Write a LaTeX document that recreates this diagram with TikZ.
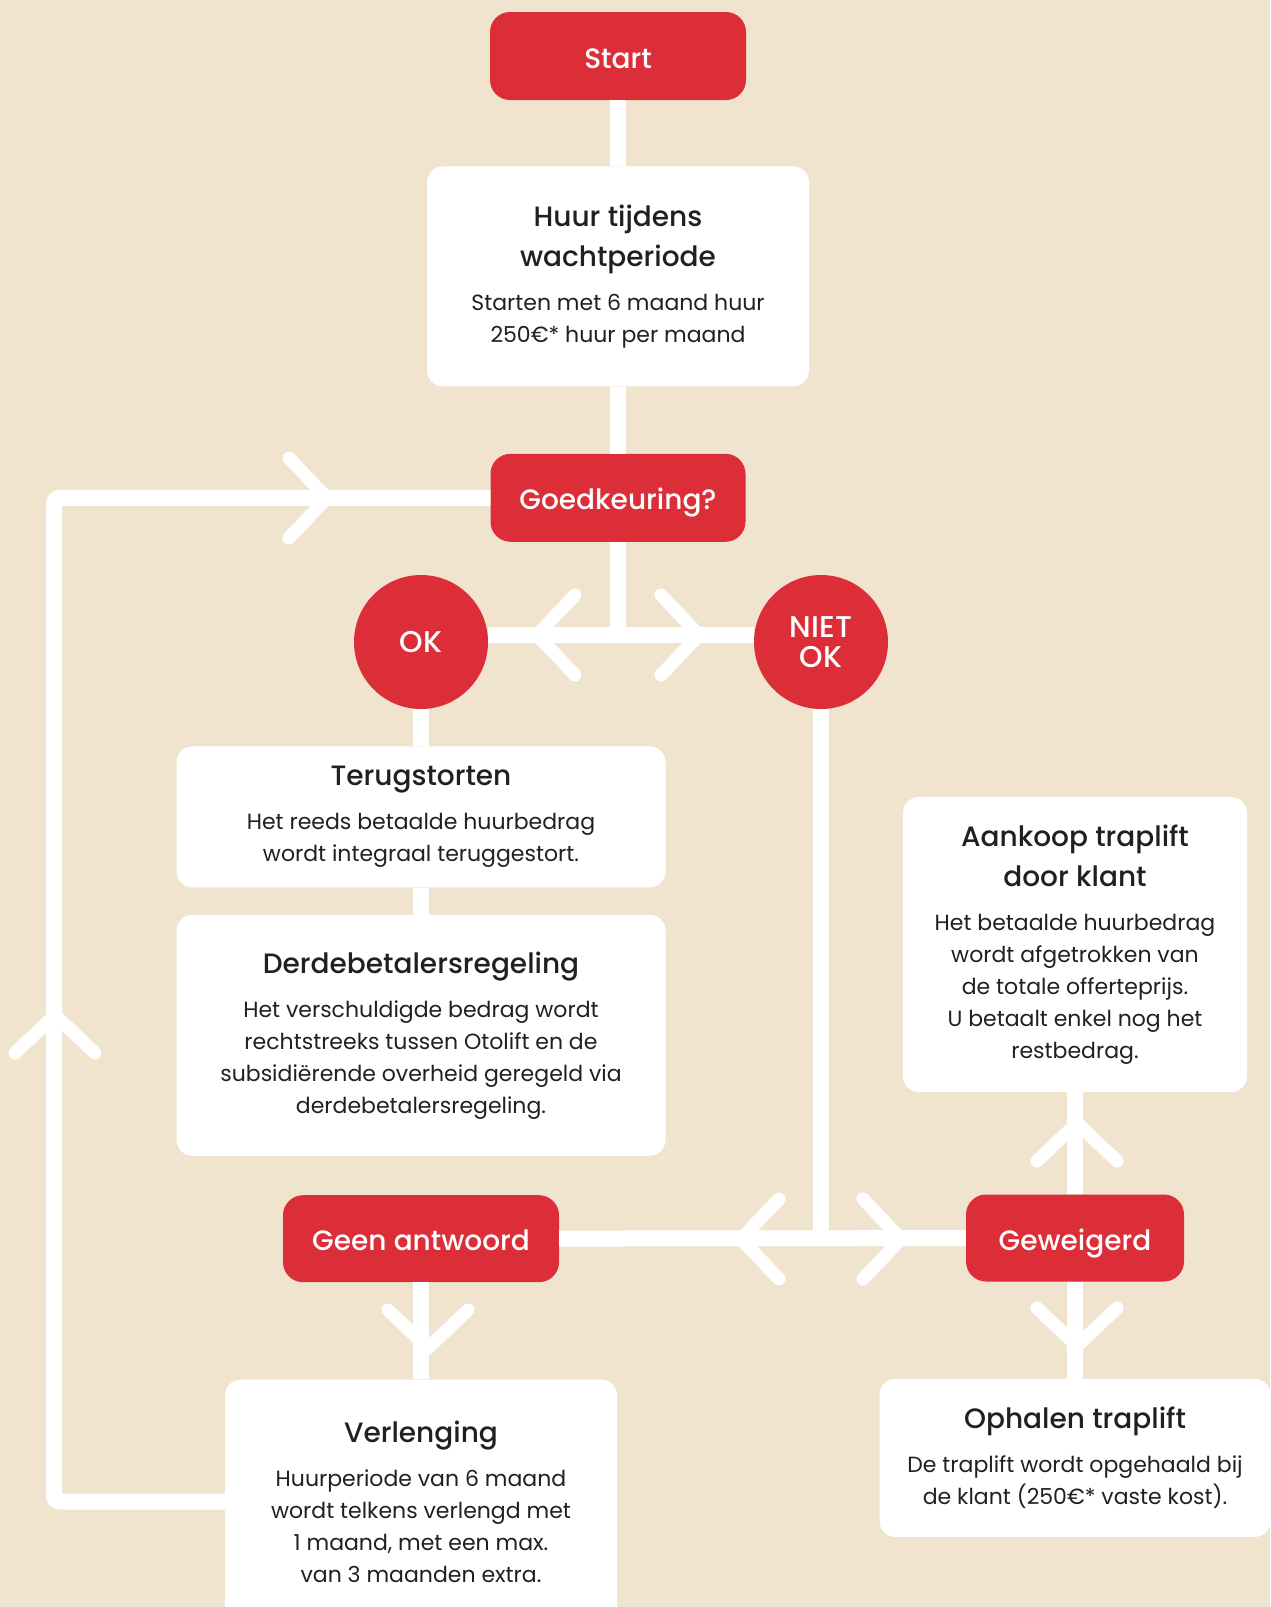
\documentclass[tikz,border=0pt]{standalone}
\usepackage{fontspec}
\setmainfont{Poppins}[BoldFont={Poppins Medium}]
\usetikzlibrary{positioning, arrows.meta}
\definecolor{bgbeige}{RGB}{240,228,207}
\definecolor{otored}{RGB}{220,46,56}
\definecolor{inkdark}{RGB}{35,31,32}
\newcommand{\hd}{\fontsize{28}{40}\selectfont\bfseries}
\newcommand{\bd}{\fontsize{22}{32}\selectfont}
\tikzset{
  redbox/.style={
    rectangle, rounded corners=20pt, minimum height=88pt, inner sep=0pt,
    text height=24pt, text depth=0pt,
    fill=otored, text=white, font=\fontsize{28}{34}\selectfont\bfseries
  },
  infobox/.style={
    rectangle, rounded corners=16pt, inner sep=0pt, align=center,
    fill=white, text=inkdark, font=\bd
  },
  answer/.style={
    circle, minimum size=134pt, inner sep=0pt, align=center,
    fill=otored, text=white, font=\fontsize{30}{32}\selectfont\bfseries
  },
  link/.style={draw=white, line width=16pt},
  chev/.pic={
    \draw[white, line width=13pt, line cap=round, line join=round] (-38,-40) -- (0,0) -- (-38,40);
  }
}

\begin{document}
\begin{tikzpicture}[x=1pt, y=-1pt]

\fill[bgbeige] (0,0) rectangle (1270,1607);
\useasboundingbox (0,0) rectangle (1270,1607);

% middle column
\node[redbox, minimum width=256pt] at (618,56) (start) {Start};
\node[infobox, minimum width=382pt, minimum height=220pt, below=66pt of start] (huur)
  {{\hd Huur tijdens}\\[8pt]{\hd wachtperiode}\\[12pt]Starten met 6 maand huur\\250€* huur per maand};
\node[redbox, minimum width=255pt, below=67pt of huur] (goed) {Goedkeuring?};

\node[answer] at (421,642) (ok) {OK};
\node[answer] at (821,642) (niet) {NIET\\[-2pt]OK};

% left column
\node[infobox, minimum width=489pt, minimum height=141pt, below=37pt of ok] (terug)
  {{\hd Terugstorten}\\[12pt]Het reeds betaalde huurbedrag\\wordt integraal teruggestort.};
\node[infobox, minimum width=489pt, minimum height=241pt, below=27pt of terug] (derde)
  {{\hd Derdebetalersregeling}\\[12pt]Het verschuldigde bedrag wordt\\rechtstreeks tussen Otolift en de\\subsidiërende overheid geregeld via\\derdebetalersregeling.};
\node[redbox, minimum width=276pt, minimum height=87pt, below=39pt of derde] (geen) {Geen antwoord};
\node[infobox, minimum width=392pt, minimum height=244pt, below=97pt of geen] (verl)
  {{\hd Verlenging}\\[12pt]Huurperiode van 6 maand\\wordt telkens verlengd met\\1 maand, met een max.\\van 3 maanden extra.};

% right column
\node[redbox, minimum width=218pt, minimum height=87pt] at (1075,1238) (gew) {Geweigerd};
\node[infobox, minimum width=344pt, minimum height=295pt, above=102pt of gew] (aankoop)
  {{\hd Aankoop traplift}\\[8pt]{\hd door klant}\\[12pt]Het betaalde huurbedrag\\wordt afgetrokken van\\de totale offerteprijs.\\U betaalt enkel nog het\\restbedrag.};
\node[infobox, minimum width=391pt, minimum height=158pt, below=97pt of gew] (ophalen)
  {{\hd Ophalen traplift}\\[12pt]De traplift wordt opgehaald bij\\de klant (250€* vaste kost).};

% connectors
\coordinate (split) at (618,635);
\coordinate (loop) at (54,1000);
\draw[link] (start) -- (huur);
\draw[link] (huur) -- (goed);
\draw[link] (goed.south) -- (goed.south |- split);
\draw[link] ([yshift=7pt]ok.east) -- ([yshift=7pt]niet.west);
\draw[link] (ok) -- (terug);
\draw[link] (terug) -- (derde);
\draw[link] (niet.south) -- (niet.south |- gew);
\draw[link] (geen) -- (gew);
\draw[link] (gew.north) -- (aankoop.south);
\draw[link] (gew.south) -- (ophalen.north);
\draw[link] (geen.south) -- (geen.south |- verl.north);
\draw[link, rounded corners=6pt] (verl.west) -| (loop) |- (goed.west);

% chevrons
\pic at (327,498) {chev};
\pic[rotate=180] at (537,635) {chev};
\pic at (699,635) {chev};
\pic[rotate=180] at (741,1239) {chev};
\pic at (901,1239) {chev};
\pic[rotate=90] at (1077,1123) {chev};
\pic[rotate=-90] at (1077,1346) {chev};
\pic[rotate=-90] at (428,1348) {chev};
\pic[rotate=90] at (55,1015) {chev};

\end{tikzpicture}
\end{document}
